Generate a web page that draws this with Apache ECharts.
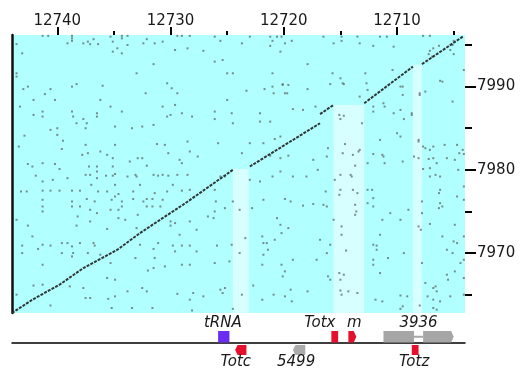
<!DOCTYPE html>
<html><head><meta charset="utf-8">
<script src="https://cdn.jsdelivr.net/npm/echarts@6/dist/echarts.min.js"></script>
<style>html,body{margin:0;padding:0;background:#fff}#c{width:520px;height:371px}</style>
</head><body><div id="c"></div><script>
// ---- data ----
const X_MIN = 12704, X_MAX = 12744, Y_MIN = 7962.8, Y_MAX = 7996.2;
const xMinorTicks = [12705,12710,12715,12720,12725,12730,12735,12740];
const xMajorTicks = [12710,12720,12730,12740];
const yMinorTicks = [7965,7970,7975,7980,7985,7990,7995];
const yMajorTicks = [7970,7980,7990];

const stripeStart = [12724.5,12715.6,12708.6];
const stripeEnd   = [12723.1,12712.9,12707.8];
const stripeTop   = [7980.1,7987.8,7992.6];

const diagonalSegments = [
  [[12744.0,7962.8],[12742.2,7964.4],[12739.8,7966.2],[12737.7,7968.2],[12734.7,7970.4],[12732.7,7972.4],[12730.7,7974.2],[12728.9,7975.8],[12726.8,7977.8],[12724.5,7980.0]],
  [[12723.0,7980.4],[12716.8,7985.6]],
  [[12716.8,7986.7],[12715.6,7987.8]],
  [[12712.9,7988.0],[12708.6,7992.4]],
  [[12707.8,7992.7],[12704.2,7996.0]]
];

const noiseDots = [
[12741.3,7996.1],[12740.8,7996.1],[12738.7,7996.1],[12738.7,7995.8],[12736.8,7995.7],[12735.3,7996.0],[12734.3,7996.1],[12733.8,7996.1],[12734.3,7995.8],[12735.1,7995.4],[12737.3,7995.4],[12737.1,7995.1],[12737.7,7995.2],[12736.4,7995.1],[12739.1,7995.2],[12738.7,7995.5],[12732.4,7995.2],[12732.1,7995.7],[12731.4,7995.2],[12730.7,7995.4],[12729.4,7996.1],[12729.0,7996.1],[12728.3,7996.1],[12729.6,7994.4],[12728.5,7994.6],[12743.6,7995.1],[12743.1,7994.0],[12735.1,7994.2],[12734.3,7994.0],[12734.7,7994.6],[12733.8,7995.0],[12733.0,7991.6],[12731.5,7992.7],[12743.6,7991.6],[12743.6,7991.2],[12743.0,7989.7],[12742.6,7990.0],[12740.6,7989.7],[12742.1,7988.4],[12741.1,7989.1],[12740.2,7988.4],[12738.7,7990.0],[12738.3,7990.3],[12736.2,7988.4],[12736.0,7990.1],[12735.3,7987.6],[12734.3,7987.0],[12736.5,7986.8],[12736.5,7986.4],[12738.7,7987.0],[12738.6,7986.4],[12741.3,7987.0],[12741.3,7986.4],[12743.3,7987.6],[12742.1,7986.6],[12738.3,7985.6],[12737.4,7985.6],[12737.5,7985.0],[12737.7,7986.1],[12740.0,7985.0],[12740.0,7984.2],[12740.6,7984.8],[12739.5,7983.5],[12739.6,7982.5],[12737.8,7981.8],[12737.3,7982.0],[12737.5,7983.0],[12736.2,7982.2],[12735.6,7981.8],[12735.1,7981.4],[12734.9,7983.0],[12733.4,7985.0],[12732.5,7985.2],[12731.5,7985.4],[12734.9,7985.2],[12731.2,7983.1],[12730.5,7983.0],[12730.2,7982.0],[12732.9,7981.4],[12732.5,7981.4],[12733.6,7981.0],[12732.1,7980.5],[12729.2,7981.2],[12729.0,7980.8],[12728.3,7982.2],[12728.5,7983.4],[12727.6,7981.6],[12730.3,7986.4],[12730.0,7986.6],[12729.0,7986.8],[12728.1,7986.4],[12730.7,7987.6],[12729.6,7987.8],[12729.9,7989.8],[12730.3,7990.4],[12729.4,7989.2],[12732.2,7989.2],[12742.9,7984.1],[12743.4,7982.8],[12741.3,7980.8],[12742.6,7980.7],[12742.2,7980.4],[12739.8,7980.1],[12737.2,7980.4],[12736.5,7980.4],[12735.1,7980.4],
[12740.2,7980.7],[12736.5,7979.8],[12741.9,7979.3],[12740.4,7978.8],[12741.3,7978.6],[12739.1,7979.0],[12737.5,7979.4],[12737.1,7979.4],[12736.5,7979.0],[12735.7,7979.3],[12735.1,7979.3],[12734.9,7979.5],[12733.8,7979.2],[12733.1,7979.4],[12733.0,7979.2],[12731.5,7979.4],[12731.1,7979.3],[12730.7,7979.4],[12730.2,7979.3],[12729.4,7979.4],[12728.5,7979.4],[12737.0,7978.2],[12734.9,7978.2],[12732.7,7978.2],[12729.8,7978.2],[12743.2,7977.4],[12742.7,7977.4],[12741.3,7977.5],[12740.6,7977.5],[12739.8,7977.5],[12738.7,7977.5],[12738.0,7977.5],[12736.4,7977.4],[12735.6,7977.4],[12734.6,7977.1],[12734.9,7976.8],[12733.3,7977.4],[12731.4,7977.2],[12730.3,7977.4],[12729.0,7977.5],[12728.3,7977.6],[12741.3,7976.4],[12738.7,7976.2],[12737.4,7976.5],[12736.7,7976.2],[12735.2,7976.4],[12734.3,7976.2],[12733.3,7976.5],[12732.1,7976.5],[12731.6,7976.5],[12730.7,7976.4],[12741.3,7975.6],[12738.7,7975.6],[12738.0,7975.6],[12734.3,7975.6],
[12741.3,7975.0],[12737.1,7975.2],[12736.5,7974.8],[12735.3,7975.2],[12734.6,7975.2],[12732.9,7974.6],[12732.1,7975.6],[12731.6,7975.6],[12730.9,7975.6],[12732.4,7976.2],[12743.6,7974.0],[12742.6,7973.3],[12738.2,7974.4],[12737.1,7973.8],[12738.3,7973.3],[12735.6,7972.9],[12734.6,7974.2],[12734.0,7974.0],[12733.0,7973.0],[12730.0,7973.8],[12729.6,7973.6],[12730.0,7973.3],[12727.7,7972.8],[12728.3,7973.8],[12729.2,7972.2],[12742.2,7972.0],[12743.1,7970.9],[12741.3,7971.0],[12740.6,7970.9],[12741.7,7970.5],[12743.1,7970.0],[12739.6,7971.2],[12739.1,7971.2],[12738.7,7970.8],[12738.0,7971.2],[12736.8,7971.2],[12736.7,7970.9],[12739.6,7970.0],[12738.7,7969.6],[12738.6,7970.0],[12737.3,7970.0],[12736.2,7969.8],[12732.7,7971.0],[12731.5,7970.5],[12731.1,7971.2],[12729.8,7970.9],[12729.0,7970.9],[12728.3,7970.9],[12729.6,7970.2],[12727.7,7970.2],[12733.1,7969.4],[12731.4,7969.4],[12730.5,7968.4],[12729.0,7968.6],[12728.3,7968.6],[12732.0,7967.9],[12731.5,7968.2],[12741.3,7968.6],[12735.3,7968.8],[12742.1,7966.1],[12741.3,7966.2],[12738.9,7966.0],[12737.7,7965.8],[12735.6,7967.0],[12734.9,7966.8],[12732.5,7965.8],[12732.1,7965.4],[12733.8,7965.4],[12734.9,7964.8],[12735.5,7964.5],[12737.1,7964.6],[12737.5,7964.6],[12735.2,7963.4],[12733.4,7963.4],[12731.6,7963.4],[12740.6,7963.7],[12743.6,7965.0],[12728.1,7963.1],[12728.3,7964.4],[12729.4,7965.1],[12728.0,7965.2],
[12723.3,7989.5],[12721.7,7989.7],[12721.0,7990.0],[12720.9,7989.2],[12720.1,7990.2],[12719.9,7989.2],[12719.6,7990.2],[12719.7,7989.2],[12717.9,7989.7],[12715.9,7990.3],[12714.7,7990.3],[12712.7,7990.4],[12713.3,7988.8],[12712.6,7989.6],[12709.7,7990.0],[12709.5,7989.0],[12707.5,7989.4],[12708.0,7989.0],[12725.0,7988.4],[12726.1,7987.0],[12726.1,7986.1],[12724.6,7986.8],[12722.1,7986.8],[12724.5,7985.6],[12722.1,7985.8],[12721.2,7985.8],[12719.2,7987.3],[12718.3,7987.2],[12717.2,7987.6],[12715.1,7986.6],[12714.7,7986.5],[12715.0,7986.1],[12712.1,7987.0],[12712.1,7987.6],[12711.1,7987.6],[12711.2,7988.0],[12710.3,7986.8],[12709.7,7987.2],[12708.7,7986.8],[12713.1,7985.6],[12711.5,7983.6],[12710.0,7984.4],[12709.7,7984.0],[12708.1,7983.4],[12707.1,7982.4],[12707.5,7982.6],[12705.6,7981.4],[12706.5,7980.8],[12707.2,7981.3],[12706.2,7979.2],[12707.1,7980.2],[12707.7,7980.1],[12708.1,7981.4],[12725.8,7983.2],[12723.0,7983.2],[12721.8,7983.2],[12720.8,7983.7],[12720.3,7984.0],[12723.7,7982.0],[12721.2,7981.7],[12720.3,7981.4],[12719.6,7981.7],[12717.4,7981.2],[12716.1,7982.6],[12716.2,7981.6],[12714.8,7982.0],[12713.9,7981.8],[12713.4,7982.2],[12713.3,7982.4],[12714.6,7983.1],[12712.1,7981.9],[12711.3,7981.8],[12711.2,7981.6],[12711.1,7980.8],[12712.6,7980.8],[12713.7,7980.5],[12715.5,7978.8],[12715.0,7979.4],[12714.1,7979.4],[12714.0,7979.2],[12717.0,7980.0],[12718.0,7979.2],[12719.2,7979.2],[12720.3,7979.8],[12721.0,7979.2],[12722.1,7978.6],[12723.0,7978.8],[12725.6,7979.2],[12725.2,7979.2],[12726.1,7977.6],[12726.0,7976.2],[12726.1,7975.0],[12725.2,7975.4],[12726.7,7974.4],[12726.2,7974.2],[12724.5,7976.2],[12723.9,7975.2],[12722.8,7975.4],[12721.8,7976.4],[12719.9,7976.5],[12719.4,7976.2],[12718.3,7975.7],[12717.4,7975.9],[12716.3,7977.4],[12716.5,7975.8],[12716.2,7975.6],[12715.6,7974.0],[12715.0,7977.6],[12715.1,7977.0],[12713.9,7977.6],[12713.5,7977.2],[12713.7,7975.8],[12713.6,7975.0],[12713.7,7974.6],[12712.6,7977.6],[12712.2,7977.6],[12712.1,7976.6],[12712.1,7975.6],[12712.6,7976.0],[12711.3,7974.0],[12710.6,7974.8],[12709.0,7975.2],[12708.1,7973.2],[12707.1,7973.5],[12706.3,7975.4],[12706.3,7977.2],[12706.2,7976.0],[12707.8,7976.2],[12711.8,7970.9],[12712.1,7971.0],[12711.5,7972.2],[12712.1,7969.2],[12712.1,7968.6],[12711.8,7970.4],[12710.8,7969.4],[12711.5,7967.6],[12709.4,7970.0],[12707.8,7968.8],[12707.5,7966.4],[12706.6,7966.0],[12706.5,7965.4],[12706.8,7964.4],[12706.2,7964.2],[12705.5,7966.8],[12707.3,7964.8],[12709.5,7963.6],[12709.7,7964.9],[12711.3,7964.2],[12711.9,7964.4],[12713.5,7965.2],[12714.3,7965.4],[12715.0,7965.5],[12714.9,7965.0],[12715.0,7966.8],[12715.1,7967.6],[12714.7,7967.4],[12714.5,7970.3],[12714.9,7973.2],[12714.9,7972.2],[12715.9,7971.0],[12716.2,7970.0],[12717.1,7969.2],[12716.8,7971.6],[12716.1,7967.2],[12715.9,7966.8],[12717.9,7965.4],[12719.2,7969.2],[12719.9,7967.8],[12720.1,7967.2],[12719.4,7965.6],[12720.2,7968.6],[12719.9,7964.8],[12720.9,7965.0],[12721.9,7964.4],[12722.7,7966.1],[12721.9,7968.6],[12721.8,7969.8],[12721.4,7970.4],[12721.8,7971.2],[12721.9,7972.0],[12721.5,7971.2],[12720.8,7971.6],[12720.2,7972.4],[12720.3,7973.4],[12719.6,7973.0],[12720.6,7974.2],[12723.4,7971.8],[12723.9,7970.0],[12724.8,7969.0],[12726.1,7968.8],[12725.9,7970.9],[12724.6,7971.0],[12725.6,7965.6],[12725.4,7965.2],[12727.1,7964.8],[12725.2,7965.8],[12723.7,7965.0],[12724.5,7963.3],[12709.7,7963.3],[12706.8,7963.4],[12719.3,7964.2],
[12707.7,7996.1],[12707.1,7996.1],[12706.8,7994.6],[12707.2,7993.9],[12706.9,7993.6],[12705.3,7994.4],[12705.1,7995.0],[12704.1,7992.0],[12709.5,7990.0],[12708.0,7989.2],[12706.0,7990.6],[12705.1,7988.2],[12709.4,7986.1],[12708.7,7986.6],[12708.1,7983.6],[12707.7,7982.8],[12706.8,7982.8],[12705.8,7983.0],[12704.7,7983.0],[12704.2,7982.4],[12704.5,7982.0],[12704.1,7981.9],[12706.8,7981.4],[12709.5,7981.0],[12708.5,7981.6],[12704.9,7981.2],[12704.6,7980.0],[12706.6,7979.4],[12707.1,7979.2],[12706.2,7977.6],[12704.7,7976.8],[12706.0,7975.6],[12704.1,7978.0],[12704.1,7976.4],[12709.7,7974.0],[12707.9,7972.8],[12704.9,7973.4],[12707.8,7974.8],[12705.0,7971.4],[12704.7,7971.2],[12705.6,7970.4],[12705.1,7970.0],[12706.0,7972.0],[12704.1,7972.0],[12704.4,7968.8],[12704.9,7967.8],[12704.1,7969.2],[12706.8,7965.8],[12705.6,7967.4],[12704.1,7967.0],[12705.3,7964.8],[12704.1,7965.0],[12708.0,7963.7],[12706.5,7963.2],[12709.1,7964.8],
[12726.1,7996.0],[12725.6,7995.5],[12723.7,7995.2],[12723.0,7996.0],[12721.2,7996.0],[12721.0,7995.5],[12720.6,7996.0],[12720.2,7996.0],[12721.2,7994.9],[12719.9,7995.2],[12719.3,7995.5],[12720.3,7994.2],[12727.1,7994.3],[12726.1,7993.0],[12725.4,7993.2],[12725.0,7991.6],[12724.5,7991.6],[12721.0,7991.6],[12717.9,7992.7],[12716.5,7996.0],[12715.6,7995.2],[12714.9,7996.0],[12714.9,7995.5],[12713.5,7996.0],[12713.3,7995.2],[12712.1,7994.9],[12711.5,7996.0],[12710.9,7996.0],[12710.3,7994.8],[12707.1,7994.3],[12706.3,7994.9],[12705.0,7995.5],[12705.0,7993.9],[12715.7,7991.6],[12715.0,7991.0],[12712.8,7991.6],[12710.4,7992.0],[12714.8,7990.4],[12720.1,7990.3],[12706.2,7990.7]
];

const geneNames  = ['tRNA','Totc','5499','Totx','m','3936','Totz'];
const geneStart  = [12725.8,12724.3,12719.2,12715.8,12714.3,12711.2,12708.7];
const geneEnd    = [12724.8,12723.3,12718.1,12715.2,12713.6,12705.0,12708.1];
const geneSide   = [1,-1,-1,1,1,1,-1];        // 1 = above the line, -1 = below
const geneArrow  = [0,-1,-1,0,1,1,0];         // arrow tip on screen: -1 left, 1 right
const geneIntron = [null,null,null,null,null,[12708.5,12707.7],null];

// ---- styles ----
const geneColor = ['#6a2cf0','#e4102c','#ababab','#e4102c','#e4102c','#a6a6a6','#e4102c'];
const labelDx   = [-1,-5,-3,-15,2,0,-1];
const FONT = '"DejaVu Sans", sans-serif';

const chart = echarts.init(document.getElementById('c'), null, {renderer:'canvas'});

const diagSeries = diagonalSegments.map(seg => ({
  type:'line', xAxisIndex:0, yAxisIndex:0, data:seg, symbol:'none', silent:true, z:4,
  lineStyle:{color:'#2e3636', width:2, type:[3,1.2]}, animation:false
}));

const option = {
  animation:false,
  grid:[
    {left:12, top:35, width:453, height:278, show:true, backgroundColor:'#b2ffff', borderWidth:0},
    {left:12, top:318, width:453, height:50}
  ],
  xAxis:[
    {gridIndex:0, type:'value', position:'top', inverse:true, min:X_MIN, max:X_MAX,
     axisLine:{show:false}, splitLine:{show:false}, axisLabel:{show:false},
     axisTick:{show:true, customValues:xMinorTicks, length:4, lineStyle:{color:'#000', width:2}}},
    {gridIndex:0, type:'value', position:'top', inverse:true, min:X_MIN, max:X_MAX,
     axisLine:{show:false}, splitLine:{show:false},
     axisTick:{show:true, customValues:xMajorTicks, length:8, lineStyle:{color:'#000', width:2}},
     axisLabel:{show:true, customValues:xMajorTicks, margin:6, color:'#1a1a1a', fontSize:15, fontFamily:FONT, formatter:v=>String(v)}},
    {gridIndex:1, type:'value', inverse:true, min:X_MIN, max:X_MAX,
     axisLine:{show:true, onZero:true, lineStyle:{color:'#000', width:1.5}},
     axisTick:{show:false}, axisLabel:{show:false}, splitLine:{show:false}}
  ],
  yAxis:[
    {gridIndex:0, type:'value', position:'right', min:Y_MIN, max:Y_MAX,
     axisLine:{show:false}, splitLine:{show:false}, axisLabel:{show:false},
     axisTick:{show:true, customValues:yMinorTicks, length:7, lineStyle:{color:'#000', width:2}}},
    {gridIndex:0, type:'value', position:'right', min:Y_MIN, max:Y_MAX,
     axisLine:{show:false}, splitLine:{show:false},
     axisTick:{show:true, customValues:yMajorTicks, length:11, lineStyle:{color:'#000', width:2}},
     axisLabel:{show:true, customValues:yMajorTicks, margin:12, color:'#1a1a1a', fontSize:15, fontFamily:FONT, formatter:v=>String(v)}},
    {gridIndex:0, type:'value', position:'left', min:Y_MIN, max:Y_MAX,
     axisLine:{show:true, lineStyle:{color:'#111', width:2.5}},
     axisTick:{show:false}, axisLabel:{show:false}, splitLine:{show:false}},
    {gridIndex:1, type:'value', min:-1, max:1, show:false}
  ],
  series:[
    {type:'custom', xAxisIndex:0, yAxisIndex:0, silent:true, z:1,
     data: stripeStart.map((s,i)=>[s, stripeTop[i], i]),
     renderItem:(params, api)=>{
       const i = api.value(2);
       const a = api.coord([stripeStart[i], stripeTop[i]]);
       const b = api.coord([stripeEnd[i], Y_MIN]);
       return {type:'rect', shape:{x:Math.min(a[0],b[0]), y:a[1], width:Math.abs(b[0]-a[0]), height:b[1]-a[1]},
               style:{fill:'#d7ffff'}};
     }},
    {type:'scatter', xAxisIndex:0, yAxisIndex:0, data:noiseDots, symbol:'rect', symbolSize:2,
     silent:true, z:3, itemStyle:{color:'#627070'}},
    ...diagSeries,
    {type:'custom', xAxisIndex:2, yAxisIndex:3, silent:true, z:5, clip:false,
     data: geneNames.map((n,i)=>[geneStart[i], 0, i]),
     renderItem:(params, api)=>{
       const i = api.value(2);
       const pa = api.coord([geneStart[i], 0]), pb = api.coord([geneEnd[i], 0]);
       const xl = Math.min(pa[0], pb[0]), xr = Math.max(pa[0], pb[0]);
       const y0 = pa[1];
       const up = geneSide[i] > 0;
       const t = up ? y0 - 12 : y0 + 2, b = up ? y0 - 0.5 : y0 + 12;
       const m = (t + b) / 2;
       const tip = 2.5, color = geneColor[i], dir = geneArrow[i];
       const box = (x1, x2, d) => {
         let pts;
         if (d > 0) pts = [[x1,t],[x2-tip,t],[x2,m],[x2-tip,b],[x1,b]];
         else if (d < 0) pts = [[x1+tip,t],[x2,t],[x2,b],[x1+tip,b],[x1,m]];
         else pts = [[x1,t],[x2,t],[x2,b],[x1,b]];
         return {type:'polygon', shape:{points:pts}, style:{fill:color}};
       };
       const children = [];
       const intr = geneIntron[i];
       if (intr) {
         const ia = api.coord([intr[0],0])[0], ib = api.coord([intr[1],0])[0];
         const il = Math.min(ia,ib), ir = Math.max(ia,ib);
         children.push(box(xl, il, dir < 0 ? dir : 0));
         children.push({type:'line', shape:{x1:il, y1:m, x2:ir, y2:m}, style:{stroke:color, lineWidth:2}});
         children.push(box(ir, xr, dir > 0 ? dir : 0));
       } else {
         children.push(box(xl, xr, dir));
       }
       children.push({type:'text', x:(xl+xr)/2 + labelDx[i], y: up ? y0 - 20 : y0 + 19,
         style:{text:geneNames[i], fill:'#1a1a1a', fontSize:15, fontStyle:'italic', fontFamily:FONT,
                align:'center', verticalAlign:'middle'}});
       return {type:'group', children};
     }}
  ]
};
chart.setOption(option);
</script></body></html>
